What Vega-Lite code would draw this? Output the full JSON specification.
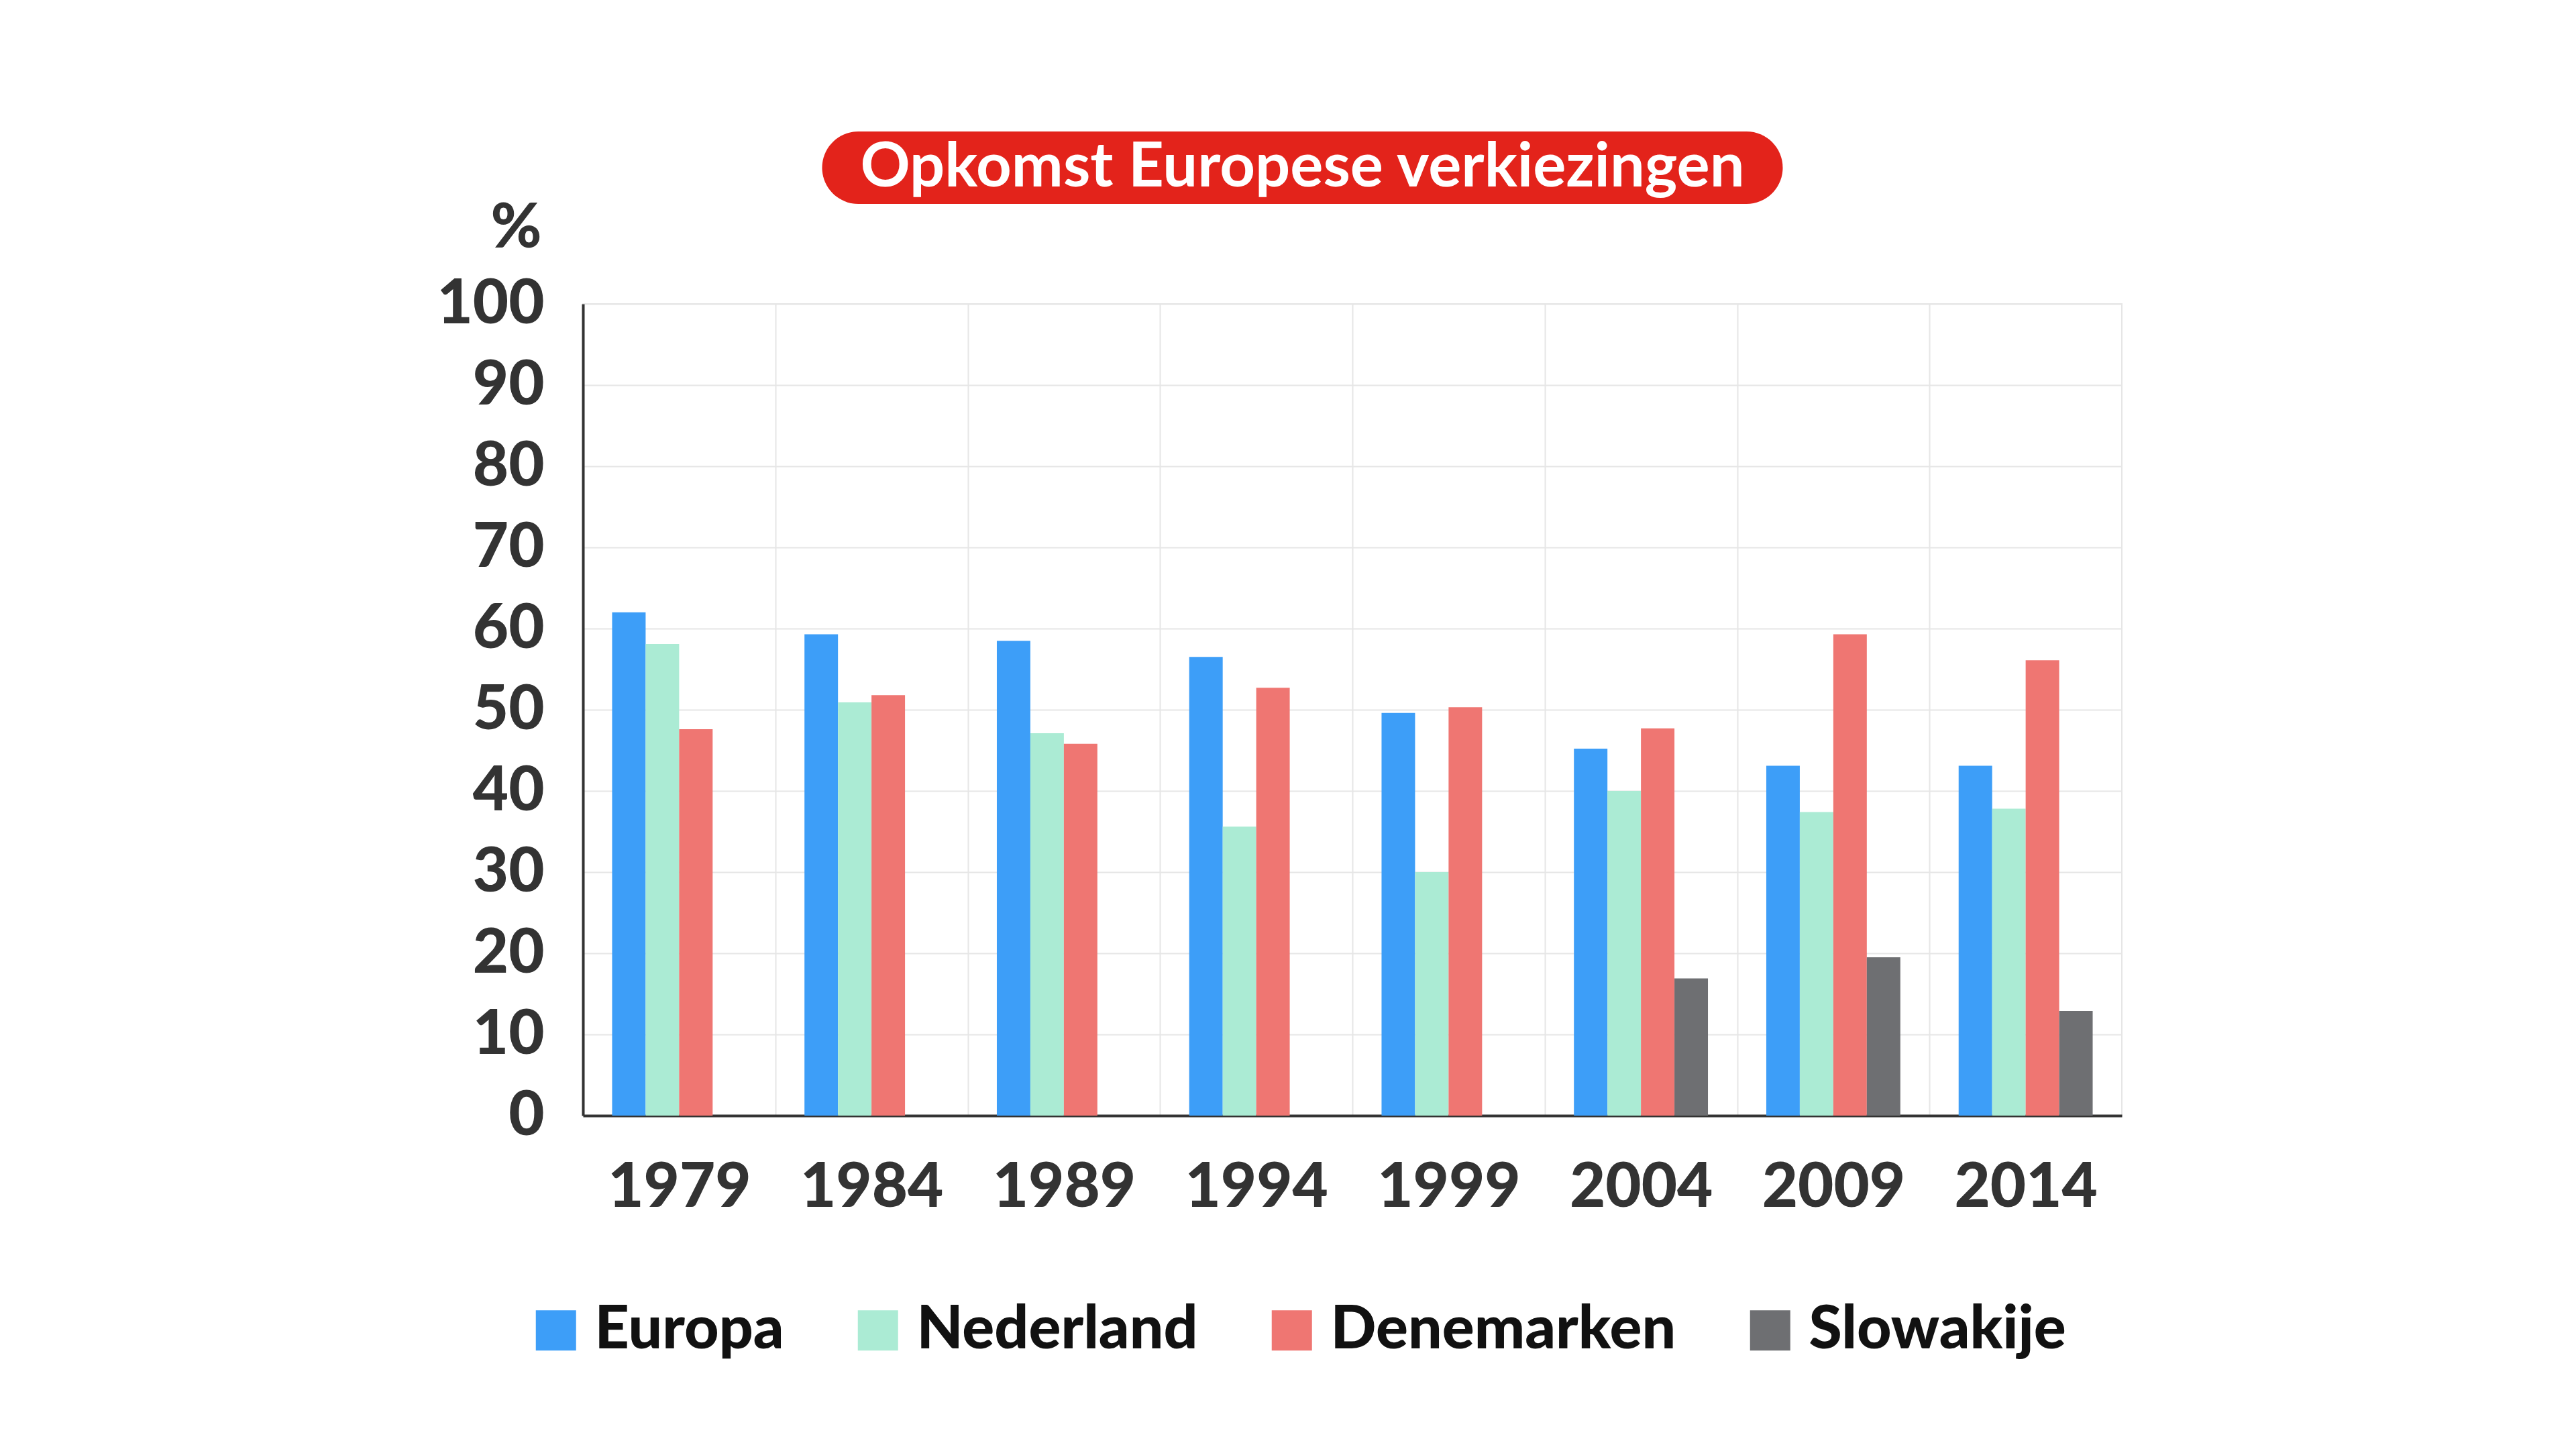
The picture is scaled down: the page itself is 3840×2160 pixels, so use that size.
{
  "$schema": "https://vega.github.io/schema/vega-lite/v6.json",
  "background": "white",
  "padding": {"left": 649, "top": 196, "right": 0, "bottom": 0},
  "config": {
    "font": "Lato",
    "view": {"stroke": "#e6e6e6", "strokeWidth": 2}
  },
  "spacing": -11,
  "center": true,
  "vconcat": [
    {
      "spacing": 0,
      "hconcat": [
        {
          "width": 1432,
          "height": 108,
          "view": {"fill": "#e3231b", "stroke": null, "cornerRadius": 54},
          "data": {"values": [{"titel": "Opkomst Europese verkiezingen"}]},
          "mark": {"type": "text", "font": "Lato", "fontSize": 92, "fontWeight": "bold", "color": "white", "baseline": "middle", "align": "center"},
          "encoding": {"text": {"field": "titel", "type": "nominal"}}
        },
        {
          "width": 150,
          "height": 108,
          "view": {"stroke": null},
          "data": {"values": [{}]},
          "mark": {"type": "text"},
          "encoding": {"text": {"value": ""}}
        }
      ]
    },
    {
      "width": 2294,
      "height": 1210,
      "data": {"values": [
        {"jaar": "1979", "land": "Europa", "opkomst": 62.0},
        {"jaar": "1979", "land": "Nederland", "opkomst": 58.1},
        {"jaar": "1979", "land": "Denemarken", "opkomst": 47.6},
        {"jaar": "1984", "land": "Europa", "opkomst": 59.3},
        {"jaar": "1984", "land": "Nederland", "opkomst": 50.9},
        {"jaar": "1984", "land": "Denemarken", "opkomst": 51.8},
        {"jaar": "1989", "land": "Europa", "opkomst": 58.5},
        {"jaar": "1989", "land": "Nederland", "opkomst": 47.1},
        {"jaar": "1989", "land": "Denemarken", "opkomst": 45.8},
        {"jaar": "1994", "land": "Europa", "opkomst": 56.5},
        {"jaar": "1994", "land": "Nederland", "opkomst": 35.6},
        {"jaar": "1994", "land": "Denemarken", "opkomst": 52.7},
        {"jaar": "1999", "land": "Europa", "opkomst": 49.6},
        {"jaar": "1999", "land": "Nederland", "opkomst": 30.0},
        {"jaar": "1999", "land": "Denemarken", "opkomst": 50.3},
        {"jaar": "2004", "land": "Europa", "opkomst": 45.2},
        {"jaar": "2004", "land": "Nederland", "opkomst": 40.0},
        {"jaar": "2004", "land": "Denemarken", "opkomst": 47.7},
        {"jaar": "2004", "land": "Slowakije", "opkomst": 16.9},
        {"jaar": "2009", "land": "Europa", "opkomst": 43.1},
        {"jaar": "2009", "land": "Nederland", "opkomst": 37.4},
        {"jaar": "2009", "land": "Denemarken", "opkomst": 59.3},
        {"jaar": "2009", "land": "Slowakije", "opkomst": 19.5},
        {"jaar": "2014", "land": "Europa", "opkomst": 43.1},
        {"jaar": "2014", "land": "Nederland", "opkomst": 37.8},
        {"jaar": "2014", "land": "Denemarken", "opkomst": 56.1},
        {"jaar": "2014", "land": "Slowakije", "opkomst": 12.9}
      ]},
      "mark": {"type": "bar"},
      "encoding": {
        "x": {
          "field": "jaar", "type": "nominal",
          "scale": {"paddingInner": 0, "paddingOuter": 0},
          "axis": {
            "title": null, "labelAngle": 0, "grid": true, "tickBand": "extent",
            "gridColor": "#e6e6e6", "gridWidth": 2, "ticks": false,
            "domainColor": "#333333", "domainWidth": 4,
            "labelFont": "Lato", "labelFontSize": 92, "labelFontWeight": 900,
            "labelColor": "#333333", "labelPadding": 62, "labelLimit": 0
          }
        },
        "xOffset": {
          "field": "land", "type": "nominal",
          "scale": {"domain": ["Europa", "Nederland", "Denemarken", "Slowakije"], "paddingInner": 0, "paddingOuter": 0.87}
        },
        "y": {
          "field": "opkomst", "type": "quantitative",
          "scale": {"domain": [0, 100], "nice": false},
          "axis": {
            "title": "%", "titleAngle": 0, "titleX": -100, "titleY": -85,
            "titleAlign": "center", "titleBaseline": "alphabetic",
            "titleFont": "Lato", "titleFontSize": 92, "titleFontWeight": 900, "titleColor": "#333333",
            "values": [0, 10, 20, 30, 40, 50, 60, 70, 80, 90, 100],
            "grid": true, "gridColor": "#e6e6e6", "gridWidth": 2, "ticks": false,
            "domainColor": "#333333", "domainWidth": 4,
            "labelFont": "Lato", "labelFontSize": 92, "labelFontWeight": 900,
            "labelColor": "#333333", "labelPadding": 58
          }
        },
        "color": {
          "field": "land", "type": "nominal",
          "scale": {
            "domain": ["Europa", "Nederland", "Denemarken", "Slowakije"],
            "range": ["#3d9ef8", "#abebd4", "#ef7672", "#6e6f72"]
          },
          "legend": {
            "title": null, "orient": "none", "direction": "horizontal",
            "legendX": -85, "legendY": 1742,
            "symbolType": "square", "symbolSize": 3600, "symbolStrokeWidth": 0, "symbolOpacity": 1,
            "labelFont": "Lato", "labelFontSize": 89.5, "labelFontWeight": 900, "labelColor": "#111111",
            "labelOffset": 13, "columnPadding": 95, "labelLimit": 0
          }
        }
      }
    }
  ]
}
